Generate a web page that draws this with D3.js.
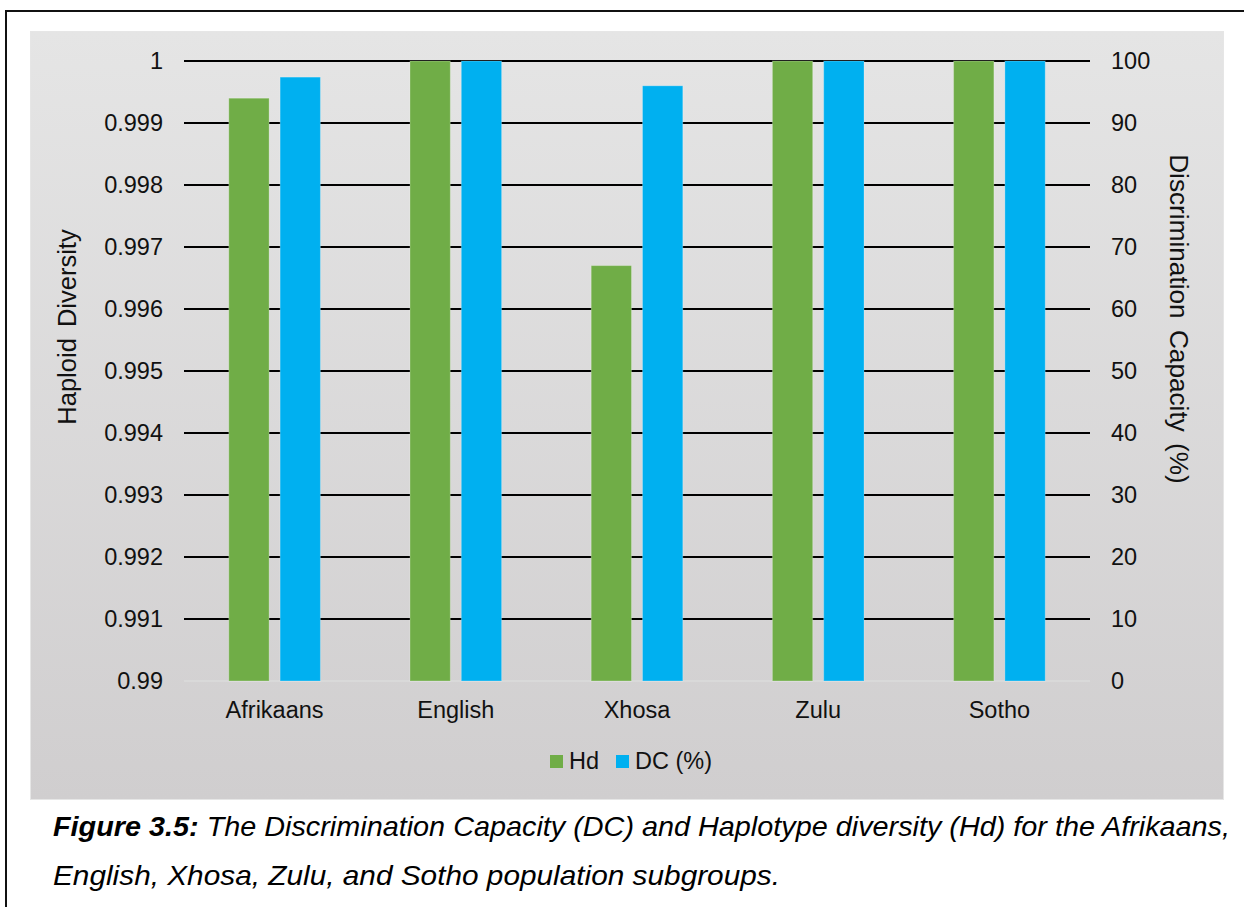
<!DOCTYPE html>
<html>
<head>
<meta charset="utf-8">
<script src="https://cdn.jsdelivr.net/npm/d3@7"></script>
<style>
  html, body { margin: 0; padding: 0; background: #ffffff; }
  svg { display: block; font-family: "Liberation Sans", Arial, sans-serif; }
</style>
</head>
<body>
<svg id="chart" width="1244" height="907"></svg>
<script>
// Population subgroups and the two measured series
const categories = ["Afrikaans", "English", "Xhosa", "Zulu", "Sotho"];
const hdValues = [0.9994, 1, 0.9967, 1, 1];        // haplotype diversity (left axis)
const dcValues = [97.4, 100, 96.0, 100, 100];      // discrimination capacity, % (right axis)
const seriesNames = ["Hd", "DC (%)"];
const leftTicks = [0.99, 0.991, 0.992, 0.993, 0.994, 0.995, 0.996, 0.997, 0.998, 0.999, 1];
const rightTicks = [0, 10, 20, 30, 40, 50, 60, 70, 80, 90, 100];

const colors = { "Hd": "#70ad47", "DC (%)": "#00b0f0" };

const svg = d3.select("#chart");

// Frame lines of the surrounding figure box
svg.append("line").attr("x1", 5).attr("x2", 1244).attr("y1", 11).attr("y2", 11)
  .attr("stroke", "#111").attr("stroke-width", 2);
svg.append("line").attr("x1", 6).attr("x2", 6).attr("y1", 10).attr("y2", 907)
  .attr("stroke", "#111").attr("stroke-width", 2);

// Chart area with a soft vertical gradient
const defs = svg.append("defs");
const grad = defs.append("linearGradient").attr("id", "bg")
  .attr("x1", 0).attr("y1", 0).attr("x2", 0).attr("y2", 1);
grad.append("stop").attr("offset", "0%").attr("stop-color", "#e5e5e5");
grad.append("stop").attr("offset", "100%").attr("stop-color", "#d0cecf");

svg.append("rect").attr("x", 30.5).attr("y", 31.5).attr("width", 1193).attr("height", 768)
  .attr("fill", "url(#bg)").attr("stroke", "#e6e6e6").attr("stroke-width", 1);

// Plot geometry
const plot = { left: 184, right: 1090, top: 61, bottom: 681 };

const x0 = d3.scaleBand().domain(categories).range([plot.left, plot.right]).padding(0);
const x1 = d3.scaleBand().domain(seriesNames).range([0, x0.bandwidth()])
  .paddingInner(0.2144).paddingOuter(0.873);
const yHd = d3.scaleLinear().domain([0.99, 1]).range([plot.bottom, plot.top]);
const yDc = d3.scaleLinear().domain([0, 100]).range([plot.bottom, plot.top]);

// Gridlines (black) on the left-axis ticks, bottom baseline in light grey
const grid = svg.append("g");
leftTicks.forEach(t => {
  const y = yHd(t);
  grid.append("line")
    .attr("x1", plot.left).attr("x2", plot.right)
    .attr("y1", y).attr("y2", y)
    .attr("stroke", t === 0.99 ? "#d9d9d9" : "#000")
    .attr("stroke-width", 2);
});

// Bars
const rows = categories.map((c, i) => ({ cat: c, Hd: hdValues[i], "DC (%)": dcValues[i] }));
const groups = svg.append("g").selectAll("g").data(rows).join("g")
  .attr("transform", d => `translate(${x0(d.cat)},0)`);

groups.append("rect")
  .attr("x", x1("Hd")).attr("width", x1.bandwidth())
  .attr("y", d => yHd(d.Hd)).attr("height", d => yHd(0.99) - yHd(d.Hd))
  .attr("fill", colors["Hd"]).attr("stroke", "rgba(255,255,255,0.25)").attr("stroke-width", 1);

groups.append("rect")
  .attr("x", x1("DC (%)")).attr("width", x1.bandwidth())
  .attr("y", d => yDc(d["DC (%)"])).attr("height", d => yDc(0) - yDc(d["DC (%)"]))
  .attr("fill", colors["DC (%)"]).attr("stroke", "rgba(255,255,255,0.25)").attr("stroke-width", 1);

// Left axis (Hd)
const fmt = d3.format("~g");
const leftAxis = d3.axisLeft(yHd).tickValues(leftTicks).tickFormat(fmt).tickSize(0).tickPadding(0);
const gl = svg.append("g").attr("transform", "translate(163,0)").call(leftAxis);
gl.select(".domain").remove();
gl.selectAll("text").attr("font-size", 23.5).attr("fill", "#111")
  .attr("font-family", "Liberation Sans, Arial, sans-serif");

// Right axis (DC)
const rightAxis = d3.axisRight(yDc).tickValues(rightTicks).tickSize(0).tickPadding(0);
const gr = svg.append("g").attr("transform", "translate(1111,0)").call(rightAxis);
gr.select(".domain").remove();
gr.selectAll("text").attr("font-size", 23.5).attr("fill", "#111")
  .attr("font-family", "Liberation Sans, Arial, sans-serif");

// Category axis
const bottomAxis = d3.axisBottom(x0).tickSize(0).tickPadding(0);
const gb = svg.append("g").attr("transform", "translate(0,701)").call(bottomAxis);
gb.select(".domain").remove();
gb.selectAll("text").attr("font-size", 23.5).attr("fill", "#111")
  .attr("font-family", "Liberation Sans, Arial, sans-serif");

// Axis titles
svg.append("text")
  .attr("transform", "translate(76,327) rotate(-90)")
  .attr("text-anchor", "middle").attr("font-size", 25.5).attr("fill", "#111")
  .attr("word-spacing", 4)
  .text("Haploid Diversity");

svg.append("text")
  .attr("transform", "translate(1170,319) rotate(90)")
  .attr("text-anchor", "middle").attr("font-size", 26.2).attr("fill", "#111")
  .attr("word-spacing", 4)
  .text("Discrimination Capacity (%)");

// Legend
const legend = svg.append("g");
const legendX = [550, 616];
seriesNames.forEach((s, i) => {
  legend.append("rect").attr("x", legendX[i]).attr("y", 755).attr("width", 13).attr("height", 13)
    .attr("fill", colors[s]);
  legend.append("text").attr("x", legendX[i] + 19).attr("y", 769)
    .attr("font-size", 23.5).attr("fill", "#111").text(s);
});

// Caption, two lines stretched to the text column width
const cap1 = svg.append("text").attr("x", 53).attr("y", 836)
  .attr("font-size", 28).attr("font-style", "italic").attr("fill", "#000")
  .attr("textLength", 1177).attr("lengthAdjust", "spacingAndGlyphs");
cap1.append("tspan").attr("font-weight", "bold").text("Figure 3.5:");
cap1.append("tspan").text(" The Discrimination Capacity (DC) and Haplotype diversity (Hd) for the Afrikaans,");

svg.append("text").attr("x", 53).attr("y", 885)
  .attr("font-size", 28).attr("font-style", "italic").attr("fill", "#000")
  .attr("textLength", 727).attr("lengthAdjust", "spacingAndGlyphs")
  .text("English, Xhosa, Zulu, and Sotho population subgroups.");
</script>
</body>
</html>
